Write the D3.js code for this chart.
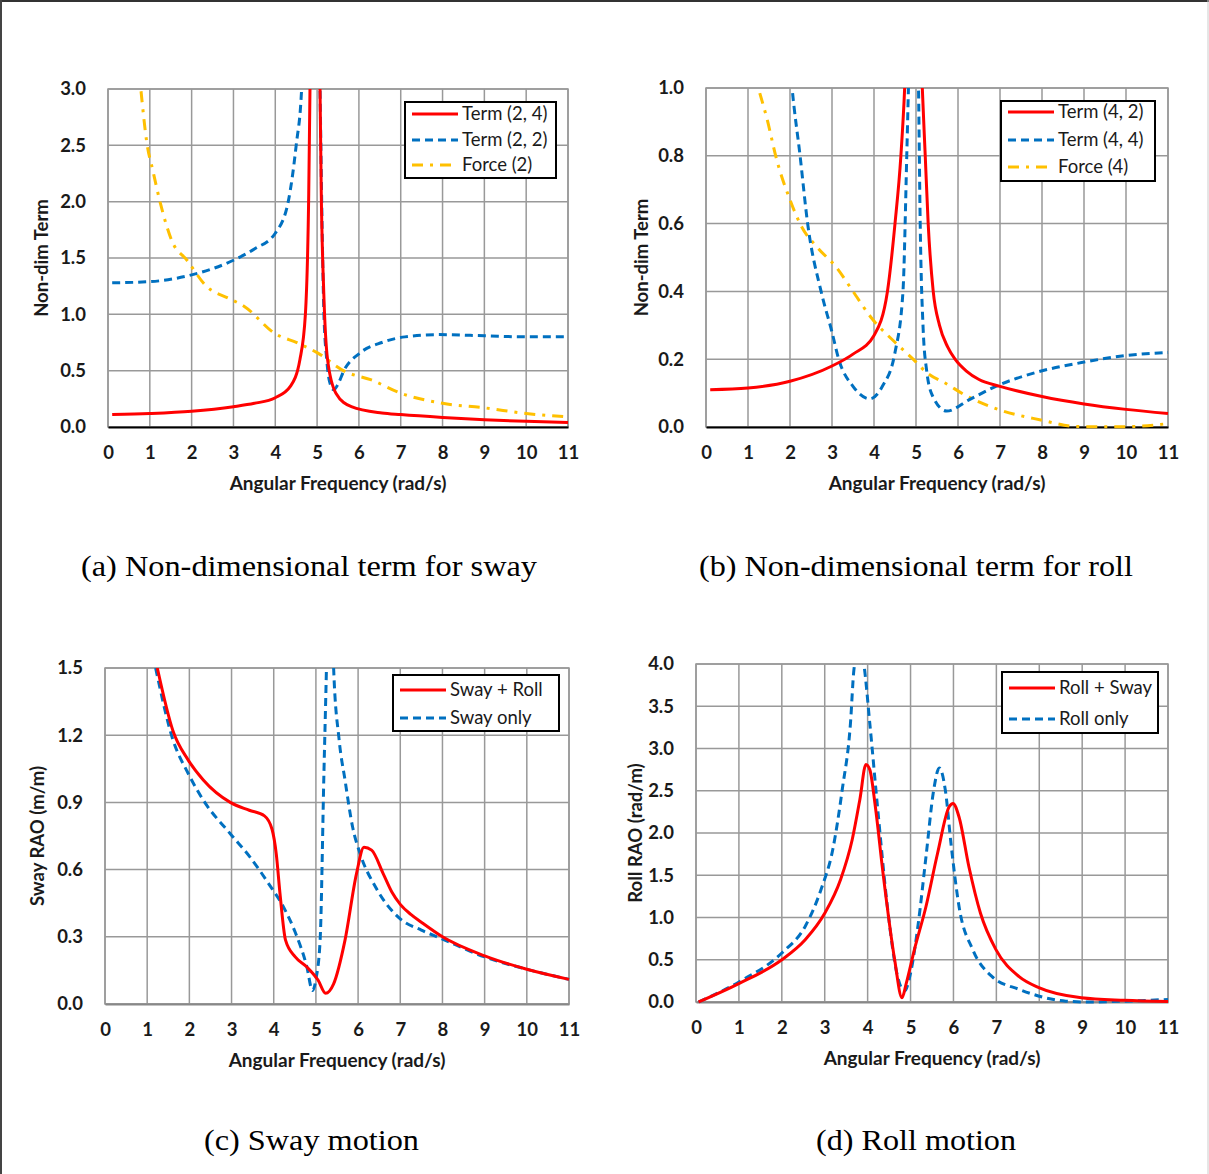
<!DOCTYPE html>
<html>
<head>
<meta charset="utf-8">
<script src="https://cdn.jsdelivr.net/npm/d3@7"></script>
<style>
body { margin: 0; background: #fff; }
</style>
</head>
<body>
<div id="chart"></div>
<script>
// (a) non-dimensional term for sway
const swayT24X = [0.1, 1, 2, 3, 3.5, 4, 4.36, 4.59, 4.72, 4.8, 4.83, 4.95, 5.07, 5.1, 5.16, 5.25, 5.45, 5.82, 6.55, 7, 8, 9, 10, 11];
const swayT24Y = [0.11, 0.12, 0.14, 0.18, 0.21, 0.26, 0.36, 0.6, 1.0, 2.07, 3.0, 5, 3.0, 2.07, 1.19, 0.6, 0.30, 0.18, 0.124, 0.11, 0.085, 0.065, 0.05, 0.04];
const swayT22X = [0.1, 1, 2, 3, 3.5, 4, 4.31, 4.5, 4.63, 4.85, 5.07, 5.12, 5.16, 5.23, 5.3, 5.4, 5.5, 5.64, 6.0, 6.55, 7.1, 7.9, 9, 10, 11];
const swayT22Y = [1.28, 1.29, 1.35, 1.48, 1.58, 1.72, 2.0, 2.5, 3.0, 6, 3.0, 1.78, 1.04, 0.6, 0.4, 0.33, 0.38, 0.5, 0.65, 0.75, 0.8, 0.82, 0.81, 0.8, 0.8];
const swayF2X = [0.79, 0.93, 1.07, 1.25, 1.53, 1.89, 2.35, 2.9, 3.26, 3.99, 4.54, 5.0, 5.68, 6.28, 7.0, 8.0, 9.0, 10.0, 11.0];
const swayF2Y = [2.98, 2.52, 2.28, 1.99, 1.65, 1.48, 1.25, 1.14, 1.07, 0.83, 0.745, 0.66, 0.49, 0.42, 0.30, 0.21, 0.17, 0.12, 0.09];

// (b) non-dimensional term for roll
const rollT42X = [0.1, 1, 2, 3, 3.5, 4, 4.32, 4.5, 4.64, 4.73, 4.94, 5.15, 5.22, 5.29, 5.41, 5.56, 5.75, 5.93, 6.2, 6.5, 7, 8, 9, 10, 11];
const rollT42Y = [0.11, 0.115, 0.135, 0.18, 0.215, 0.27, 0.4, 0.6, 0.8, 1.0, 2.0, 1.0, 0.8, 0.6, 0.4, 0.3, 0.237, 0.2, 0.165, 0.14, 0.12, 0.09, 0.068, 0.052, 0.04];
const rollT44X = [1.98, 2.05, 2.24, 2.42, 2.74, 3.0, 3.16, 3.5, 3.9, 4.2, 4.5, 4.69, 4.78, 4.82, 4.94, 5.06, 5.1, 5.17, 5.25, 5.4, 5.73, 6.26, 6.9, 7.83, 8.94, 9.95, 11];
const rollT44Y = [1.1, 1.0, 0.8, 0.6, 0.4, 0.28, 0.2, 0.12, 0.083, 0.12, 0.22, 0.4, 0.8, 1.0, 1.6, 1.0, 0.6, 0.29, 0.17, 0.09, 0.047, 0.08, 0.12, 0.16, 0.19, 0.21, 0.22];
const rollF4X = [1.28, 1.45, 1.68, 2.0, 2.28, 2.65, 3.11, 3.5, 3.95, 4.5, 4.93, 5.26, 5.73, 6.17, 7.0, 8.0, 8.75, 9, 10, 11];
const rollF4Y = [0.985, 0.91, 0.79, 0.67, 0.59, 0.53, 0.47, 0.4, 0.32, 0.25, 0.2, 0.16, 0.127, 0.094, 0.05, 0.02, 0.002, 0.001, 0.001, 0.01];

// (c) sway motion
const swayRollX = [1.24, 1.61, 1.97, 2.33, 2.97, 3.42, 3.78, 3.96, 4.06, 4.15, 4.28, 4.51, 4.78, 5.05, 5.23, 5.42, 5.69, 5.96, 6.14, 6.32, 6.6, 6.8, 7.0, 7.25, 7.5, 8.0, 9.0, 10.0, 11];
const swayRollY = [1.5, 1.22, 1.09, 1.0, 0.9, 0.865, 0.84, 0.78, 0.67, 0.49, 0.285, 0.21, 0.166, 0.107, 0.048, 0.09, 0.285, 0.58, 0.70, 0.687, 0.58, 0.50, 0.445, 0.40, 0.365, 0.30, 0.215, 0.155, 0.11];
const swayOnlyX = [1.2, 1.61, 1.97, 2.33, 2.97, 3.42, 3.87, 4.24, 4.51, 4.78, 4.92, 5.0, 5.1, 5.19, 5.25, 5.33, 5.42, 5.55, 5.69, 5.87, 6.05, 6.42, 7.0, 7.5, 8.0, 9.0, 10.0, 11];
const swayOnlyY = [1.5, 1.18, 1.03, 0.91, 0.76, 0.66, 0.54, 0.43, 0.32, 0.17, 0.06, 0.11, 0.285, 1.03, 1.5, 2.2, 1.5, 1.18, 1.0, 0.79, 0.67, 0.52, 0.38, 0.33, 0.29, 0.21, 0.155, 0.11];

// (d) roll motion
const rollSwayX = [0.06, 1.01, 2.0, 2.55, 3.0, 3.37, 3.64, 3.82, 3.96, 4.05, 4.18, 4.36, 4.63, 4.8, 4.9, 5.09, 5.36, 5.63, 5.9, 5.99, 6.13, 6.36, 6.63, 6.99, 7.53, 7.99, 8.98, 9.98, 11];
const rollSwayY = [0.0, 0.22, 0.5, 0.74, 1.05, 1.45, 1.92, 2.4, 2.81, 2.75, 2.31, 1.52, 0.5, 0.05, 0.22, 0.62, 1.13, 1.76, 2.31, 2.35, 2.19, 1.6, 1.05, 0.62, 0.30, 0.17, 0.05, 0.02, 0.005];
const rollOnlyX = [0.06, 1.01, 2.0, 2.55, 2.92, 3.19, 3.41, 3.6, 3.68, 3.8, 3.91, 4.05, 4.23, 4.46, 4.68, 4.86, 5.0, 5.18, 5.36, 5.54, 5.67, 5.81, 5.95, 6.13, 6.45, 6.9, 7.53, 8.62, 9.16, 10, 11];
const rollOnlyY = [0.0, 0.24, 0.58, 0.9, 1.34, 1.81, 2.52, 3.3, 3.93, 4.2, 4.0, 3.3, 2.31, 1.13, 0.34, 0.13, 0.34, 0.93, 1.72, 2.51, 2.77, 2.51, 1.84, 1.13, 0.62, 0.30, 0.15, 0.01, 0.0, 0.01, 0.03];

const xTicks = d3.range(0, 12);
const yTicksA = [0, 0.5, 1.0, 1.5, 2.0, 2.5, 3.0];
const yTicksB = [0, 0.2, 0.4, 0.6, 0.8, 1.0];
const yTicksC = [0, 0.3, 0.6, 0.9, 1.2, 1.5];
const yTicksD = [0, 0.5, 1.0, 1.5, 2.0, 2.5, 3.0, 3.5, 4.0];

const xTitle = "Angular Frequency (rad/s)";

const COLORS = { red: "#ff0000", blue: "#0070c0", yellow: "#ffc000" };
const STYLES = {
    solid: { color: COLORS.red, dash: null },
    dashed: { color: COLORS.blue, dash: "8,5" },
    dashdot: { color: COLORS.yellow, dash: "11,7,3,7" }
};

const zip = (xs, ys) => xs.map((v, i) => [v, ys[i]]);

const panels = [
    {
        id: "a", left: 108, right: 568, top: 89, bottom: 427, yMax: 3, yTicks: yTicksA,
        yTitle: "Non-dim Term", yTitleX: 42, axisColor: "#000",
        caption: "(a) Non-dimensional term for sway", capX: 81, capW: 456, capY: 576,
        legend: { x: 405, y: 102, w: 151, h: 76, rows: [114, 140, 165] },
        series: [
            { name: "Term (2, 4)", style: "solid", data: zip(swayT24X, swayT24Y) },
            { name: "Term (2, 2)", style: "dashed", data: zip(swayT22X, swayT22Y) },
            { name: "Force (2)", style: "dashdot", data: zip(swayF2X, swayF2Y) }
        ]
    },
    {
        id: "b", left: 706, right: 1168, top: 88, bottom: 427, yMax: 1, yTicks: yTicksB,
        yTitle: "Non-dim Term", yTitleX: 642, axisColor: "#000",
        caption: "(b) Non-dimensional term for roll", capX: 699, capW: 434, capY: 576,
        legend: { x: 1001, y: 101, w: 154, h: 80, rows: [112, 140, 167] },
        series: [
            { name: "Term (4, 2)", style: "solid", data: zip(rollT42X, rollT42Y) },
            { name: "Term (4, 4)", style: "dashed", data: zip(rollT44X, rollT44Y) },
            { name: "Force (4)", style: "dashdot", data: zip(rollF4X, rollF4Y) }
        ]
    },
    {
        id: "c", left: 105, right: 569, top: 668, bottom: 1004, yMax: 1.5, yTicks: yTicksC,
        yTitle: "Sway RAO (m/m)", yTitleX: 38, axisColor: "#888",
        caption: "(c) Sway motion", capX: 204, capW: 215, capY: 1150,
        legend: { x: 393, y: 675, w: 166, h: 56, rows: [690, 718] },
        series: [
            { name: "Sway + Roll", style: "solid", data: zip(swayRollX, swayRollY) },
            { name: "Sway only", style: "dashed", data: zip(swayOnlyX, swayOnlyY) }
        ]
    },
    {
        id: "d", left: 696, right: 1168, top: 664, bottom: 1002, yMax: 4, yTicks: yTicksD,
        yTitle: "Roll RAO (rad/m)", yTitleX: 636, axisColor: "#888",
        caption: "(d) Roll motion", capX: 816, capW: 200, capY: 1150,
        legend: { x: 1002, y: 672, w: 156, h: 61, rows: [688, 719] },
        series: [
            { name: "Roll + Sway", style: "solid", data: zip(rollSwayX, rollSwayY) },
            { name: "Roll only", style: "dashed", data: zip(rollOnlyX, rollOnlyY) }
        ]
    }
];

const width = 1209, height = 1174;
const svg = d3.select("#chart").append("svg")
    .attr("width", width).attr("height", height)
    .attr("viewBox", `0 0 ${width} ${height}`);

// page frame
svg.append("line").attr("x1", 0).attr("x2", width).attr("y1", 1).attr("y2", 1)
    .attr("stroke", "#333").attr("stroke-width", 2);
svg.append("line").attr("x1", 1).attr("x2", 1).attr("y1", 0).attr("y2", height)
    .attr("stroke", "#444").attr("stroke-width", 2);
svg.append("line").attr("x1", width - 1).attr("x2", width - 1).attr("y1", 0).attr("y2", height)
    .attr("stroke", "#ccc").attr("stroke-width", 1);

const FONT = "Lato, 'Open Sans', sans-serif";

panels.forEach(p => drawPanel(p));

function drawPanel(p) {
    let x = d3.scaleLinear().domain([0, 11]).range([p.left, p.right]);
    let y = d3.scaleLinear().domain([0, p.yMax]).range([p.bottom, p.top]);
    let g = svg.append("g").attr("id", "panel-" + p.id);

    g.append("rect")
        .attr("x", p.left).attr("y", p.top)
        .attr("width", p.right - p.left).attr("height", p.bottom - p.top)
        .attr("fill", "#fff").attr("stroke", "#999").attr("stroke-width", 1.5);

    // grid
    g.append("g").selectAll("line").data(xTicks).enter().append("line")
        .attr("x1", d => x(d)).attr("x2", d => x(d))
        .attr("y1", p.top).attr("y2", p.bottom)
        .attr("stroke", "#999").attr("stroke-width", 1.5);
    g.append("g").selectAll("line").data(p.yTicks).enter().append("line")
        .attr("x1", p.left).attr("x2", p.right)
        .attr("y1", d => y(d)).attr("y2", d => y(d))
        .attr("stroke", "#999").attr("stroke-width", 1.5);

    // axes
    let xAxis = g.append("g")
        .attr("transform", `translate(0,${p.bottom})`)
        .call(d3.axisBottom(x).tickValues(xTicks).tickFormat(d3.format("d")).tickSize(0).tickPadding(19));
    xAxis.select(".domain").attr("stroke", p.axisColor).attr("stroke-width", 2);

    let yAxis = g.append("g")
        .attr("transform", `translate(${p.left},0)`)
        .call(d3.axisLeft(y).tickValues(p.yTicks).tickFormat(d3.format(".1f")).tickSize(0).tickPadding(22));
    yAxis.select(".domain").remove();

    g.selectAll(".tick text")
        .style("font-family", FONT).style("font-size", "18.5px")
        .style("font-weight", "bold").attr("fill", "#1a1a1a");

    g.append("text")
        .attr("x", (p.left + p.right) / 2).attr("y", p.bottom + 63)
        .attr("text-anchor", "middle")
        .style("font-family", FONT).style("font-size", "19px").style("font-weight", "bold")
        .attr("fill", "#1a1a1a")
        .text(xTitle);

    g.append("text")
        .attr("transform", `translate(${p.yTitleX},${(p.top + p.bottom) / 2}) rotate(-90)`)
        .attr("text-anchor", "middle").attr("dy", "0.35em")
        .style("font-family", FONT).style("font-size", "18.5px").style("font-weight", "bold")
        .attr("fill", "#1a1a1a")
        .text(p.yTitle);

    // clip for curves
    svg.append("clipPath").attr("id", "clip-" + p.id)
        .append("rect")
        .attr("x", p.left).attr("y", p.top)
        .attr("width", p.right - p.left + 3).attr("height", p.bottom - p.top + 3);

    let line = d3.line()
        .x(d => x(d[0])).y(d => y(d[1]))
        .curve(d3.curveMonotoneX);

    // draw in reverse so the solid red line sits on top
    g.append("g").attr("clip-path", `url(#clip-${p.id})`)
        .selectAll("path").data(p.series.slice().reverse()).enter().append("path")
        .attr("d", d => line(d.data))
        .attr("fill", "none")
        .attr("stroke", d => STYLES[d.style].color)
        .attr("stroke-width", 3)
        .attr("stroke-dasharray", d => STYLES[d.style].dash);

    // legend
    let L = p.legend;
    let lg = g.append("g").attr("class", "legend");
    lg.append("rect")
        .attr("x", L.x).attr("y", L.y).attr("width", L.w).attr("height", L.h)
        .attr("fill", "#fff").attr("stroke", "#000").attr("stroke-width", 2);
    p.series.forEach((s, i) => {
        let ry = L.rows[i];
        lg.append("line")
            .attr("x1", L.x + 7).attr("x2", L.x + 53)
            .attr("y1", ry).attr("y2", ry)
            .attr("stroke", STYLES[s.style].color).attr("stroke-width", 3)
            .attr("stroke-dasharray", STYLES[s.style].dash);
        lg.append("text")
            .attr("x", L.x + 57).attr("y", ry).attr("dy", "0.35em")
            .style("font-family", FONT).style("font-size", "18.5px")
            .attr("fill", "#1a1a1a")
            .text(s.name);
    });

    // caption
    svg.append("text")
        .attr("x", p.capX).attr("y", p.capY)
        .attr("textLength", p.capW).attr("lengthAdjust", "spacingAndGlyphs")
        .style("font-family", "'Liberation Serif', 'Times New Roman', serif")
        .style("font-size", "30px")
        .attr("fill", "#000")
        .text(p.caption);
}
</script>
</body>
</html>
